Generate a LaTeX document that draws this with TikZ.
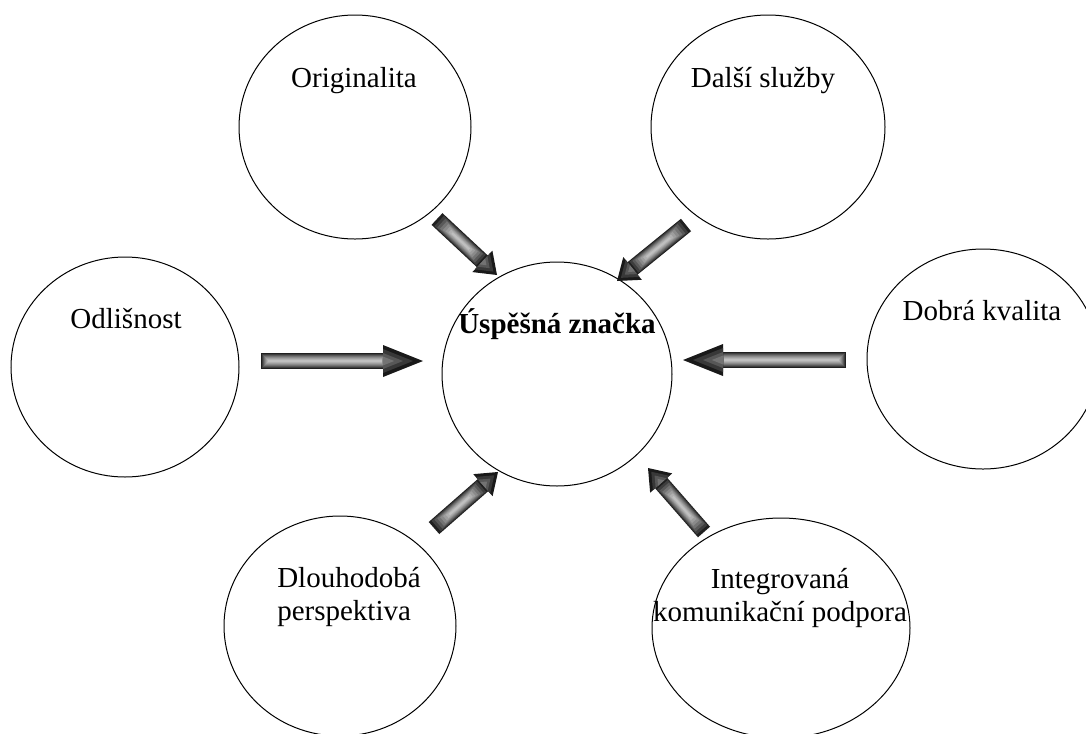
\documentclass[tikz,border=0pt]{standalone}
\usepackage{fontspec}
\setmainfont{Liberation Serif}
\usetikzlibrary{shapes.geometric,calc}
\tikzset{
  bubble/.style={ellipse, draw=black, line width=0.75pt, inner sep=0pt, outer sep=0pt},
  lbl/.style={font=\fontsize{21.75}{24.75}\selectfont, inner sep=0pt, anchor=base},
  lblw/.style={lbl, anchor=base west},
}
% #1 tail, #2 tip, #3 head length, #4 head half width, #5 tail fade step, #6 head fade step
\newcommand{\gradarrow}[6]{%
  \coordinate (hb) at ($(#2)!#3!(#1)$);
  \foreach \w/\c [count=\k from 0] in {12pt/88,10.5pt/76,9pt/65,7.5pt/55,6pt/46,4.5pt/38,3pt/31,1.5pt/25}{
    \draw[line width=\w, draw=black!\c, shorten <=\k*#5, shorten >=\k*#6-0.5pt] (#1) -- (hb);
  }
  \foreach \s/\c in {1/90,0.75/78,0.5/66,0.28/55}{
    \fill[black!\c] ($(hb)!\s*#4!90:(#2)$) -- ($(hb)!\s*#3!(#2)$) -- ($(hb)!\s*#4!-90:(#2)$) -- cycle;
  }
}
\begin{document}
\begin{tikzpicture}[x=0.75pt,y=-0.75pt]
\useasboundingbox (0,0) rectangle (1086,733);
\clip (0,0) rectangle (1086,733);

% ellipses
\node[bubble, minimum width=174pt, minimum height=168pt] (orig) at (355,127) {};
\node[bubble, minimum width=175.5pt, minimum height=168pt] (dalsi) at (768,127) {};
\node[bubble, minimum width=171pt, minimum height=165pt] (odl) at (125,367) {};
\node[bubble, minimum width=174pt, minimum height=165pt] (dobra) at (983,359) {};
\node[bubble, minimum width=172.5pt, minimum height=168pt] (center) at (557,374) {};
\node[bubble, minimum width=174pt, minimum height=165pt] (dlouh) at (340,626) {};
\node[bubble, minimum width=193.5pt, minimum height=165pt] (integr) at (781,628) {};

% labels
\node[lbl] (orig-t) at (354,87) {Originalita};
\node[lbl] (dalsi-t) at (763,87) {Další služby};
\node[lbl] (odl-t) at (126,328) {Odlišnost};
\node[lbl] (dobra-t) at (982,320) {Dobrá kvalita};
\node[lbl, font=\fontsize{21.75}{24.75}\selectfont\bfseries] (center-t) at (557,333) {Úspěšná značka};
\node[lblw] (dlouh-t1) at (277,587) {Dlouhodobá};
\node[lblw] (dlouh-t2) at (277,620) {perspektiva};
\node[lbl] (integr-t1) at (780,588) {Integrovaná};
\node[lbl] (integr-t2) at (780,621) {komunikační podpora};

% arrow end points
\coordinate (h1s) at (261,361); \coordinate (h1e) at (423,361);
\coordinate (h2s) at (846,360); \coordinate (h2e) at (683,360);
\coordinate (a1s) at (437,219); \coordinate (a1e) at (497,275);
\coordinate (a2s) at (686,225); \coordinate (a2e) at (617,281);
\coordinate (a3s) at (434,528); \coordinate (a3e) at (498,472);
\coordinate (a4s) at (704,532); \coordinate (a4e) at (648,468);

\gradarrow{h1s}{h1e}{30pt}{12pt}{0.8pt}{0.2pt}
\gradarrow{h2s}{h2e}{30pt}{12pt}{0.8pt}{0.2pt}
\gradarrow{a1s}{a1e}{15pt}{11pt}{2.2pt}{2pt}
\gradarrow{a2s}{a2e}{15pt}{11pt}{2.2pt}{2pt}
\gradarrow{a3s}{a3e}{15pt}{11pt}{2.2pt}{2pt}
\gradarrow{a4s}{a4e}{15pt}{11pt}{2.2pt}{2pt}
\end{tikzpicture}
\end{document}
